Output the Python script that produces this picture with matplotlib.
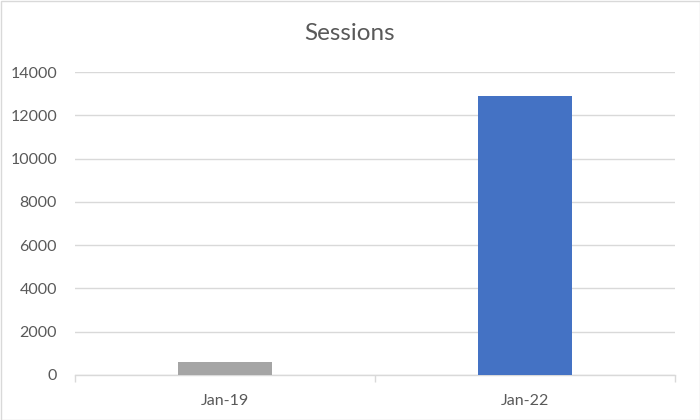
import numpy as np
import matplotlib.pyplot as plt
from matplotlib.patches import Rectangle

# Datos
categories = ["Jan-19", "Jan-22"]
sessions = [600, 12900]
bar_colors = ["#A5A5A5", "#4472C4"]
yticks = [0, 2000, 4000, 6000, 8000, 10000, 12000, 14000]

plt.rcParams['font.family'] = ['Lato', 'DejaVu Sans']
text_color = "#595959"
grid_color = "#D9D9D9"

fig = plt.figure(figsize=(7, 4.2), dpi=100)
ax = fig.add_axes([75 / 700, 45 / 420, 600 / 700, 303 / 420])

x = np.arange(len(categories))
ax.bar(x, sessions, width=0.315, color=bar_colors, zorder=3)

ax.set_xlim(-0.5, len(categories) - 0.5)
ax.set_ylim(0, 14000)
ax.set_yticks(yticks)
ax.set_yticklabels([str(v) for v in yticks])
ax.set_xticks(x)
ax.set_xticklabels(categories)
ax.set_xticks(np.arange(len(categories) + 1) - 0.5, minor=True)

ax.grid(axis="y", color=grid_color, linewidth=1, zorder=0)
for s in ["top", "right", "left"]:
    ax.spines[s].set_visible(False)
ax.spines["bottom"].set_color(grid_color)
ax.spines["bottom"].set_linewidth(1)

ax.tick_params(axis="y", length=0, pad=13, labelsize=11.5, labelcolor=text_color)
ax.tick_params(axis="x", which="major", length=0, pad=14, labelsize=11.5, labelcolor=text_color)
ax.tick_params(axis="x", which="minor", length=5, color=grid_color, width=1)

fig.text(0.5, 1 - 33 / 420, "Sessions", ha="center", va="center",
         fontsize=17.5, color=text_color)

# Borde del gráfico
fig.patches.append(Rectangle((0.5 / 700, 0.5 / 420), 699 / 700, 419 / 420,
                             transform=fig.transFigure, fill=False,
                             edgecolor=grid_color, linewidth=1))

plt.savefig("out.png", dpi=100)
